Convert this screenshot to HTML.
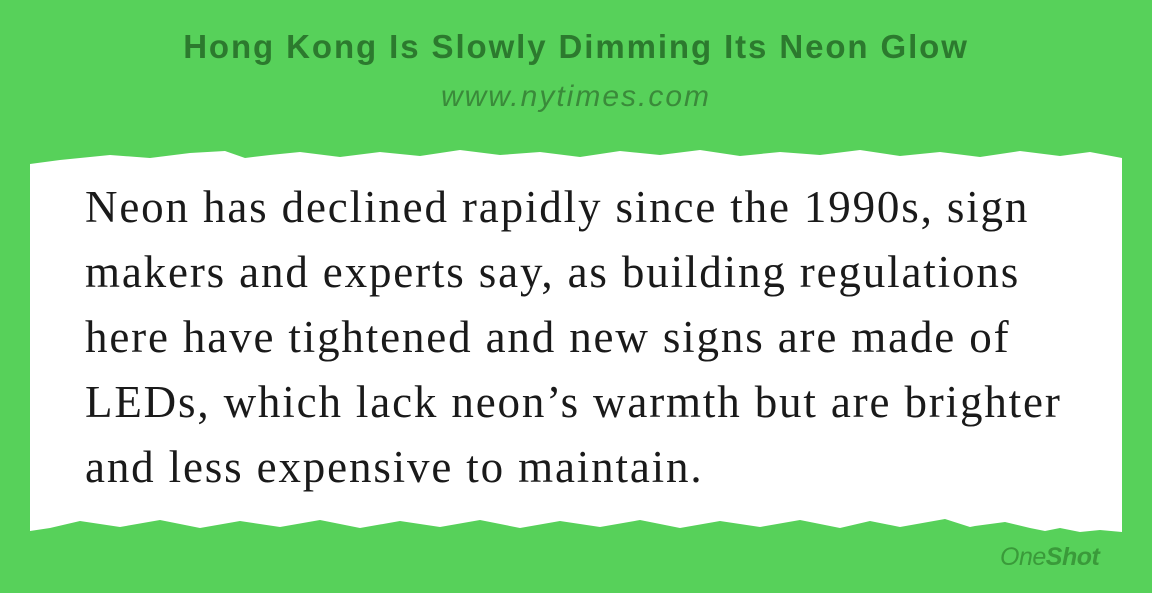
<!DOCTYPE html>
<html><head><meta charset="utf-8"><style>
body{margin:0;width:1152px;height:593px;background:#57d15a;position:relative;overflow:hidden;font-family:"Liberation Sans",sans-serif}
#title{position:absolute;top:28px;left:0;width:1152px;text-align:center;font-weight:bold;font-size:33px;letter-spacing:1.9px;color:#2c7a2e}
#url{position:absolute;top:80px;left:0;width:1152px;text-align:center;font-style:italic;font-size:30px;color:#3a8a3a;letter-spacing:2px}
svg{position:absolute;left:0;top:0}
#quote{position:absolute;left:85px;top:175px;width:1060px;white-space:nowrap;font-family:"Liberation Serif",serif;font-size:45px;letter-spacing:1.85px;line-height:65px;color:#1a1a1a}
#logo{position:absolute;left:1000px;top:543px;font-size:25px;color:#3a9a3a;font-style:italic;letter-spacing:-0.5px}
</style></head><body>
<div id="title">Hong Kong Is Slowly Dimming Its Neon Glow</div>
<div id="url">www.nytimes.com</div>
<svg width="1152" height="593">
<polygon fill="#fff" points="30,164 60,160 110,155 150,158 190,153 225,151 245,158 270,155 300,152 340,157 380,152 420,156 460,150 500,155 540,152 580,157 620,151 660,155 700,150 740,156 780,152 820,155 860,150 900,156 940,152 980,157 1020,151 1060,156 1090,152 1122,158 1122,532 1100,530 1080,532 1060,528 1045,531 1030,528 1005,522 975,526 970,527 945,519 900,527 870,521 840,528 800,520 760,527 720,521 680,528 640,520 600,527 560,521 520,528 480,520 440,527 400,521 360,528 320,520 280,527 240,521 200,528 160,520 120,527 80,521 50,528 30,531"/>
</svg>
<div id="quote">Neon has declined rapidly since the 1990s, sign<br>makers and experts say, as building regulations<br>here have tightened and new signs are made of<br>LEDs, which lack neon’s warmth but are brighter<br>and less expensive to maintain.</div>
<div id="logo">One<b>Shot</b></div>
</body></html>
